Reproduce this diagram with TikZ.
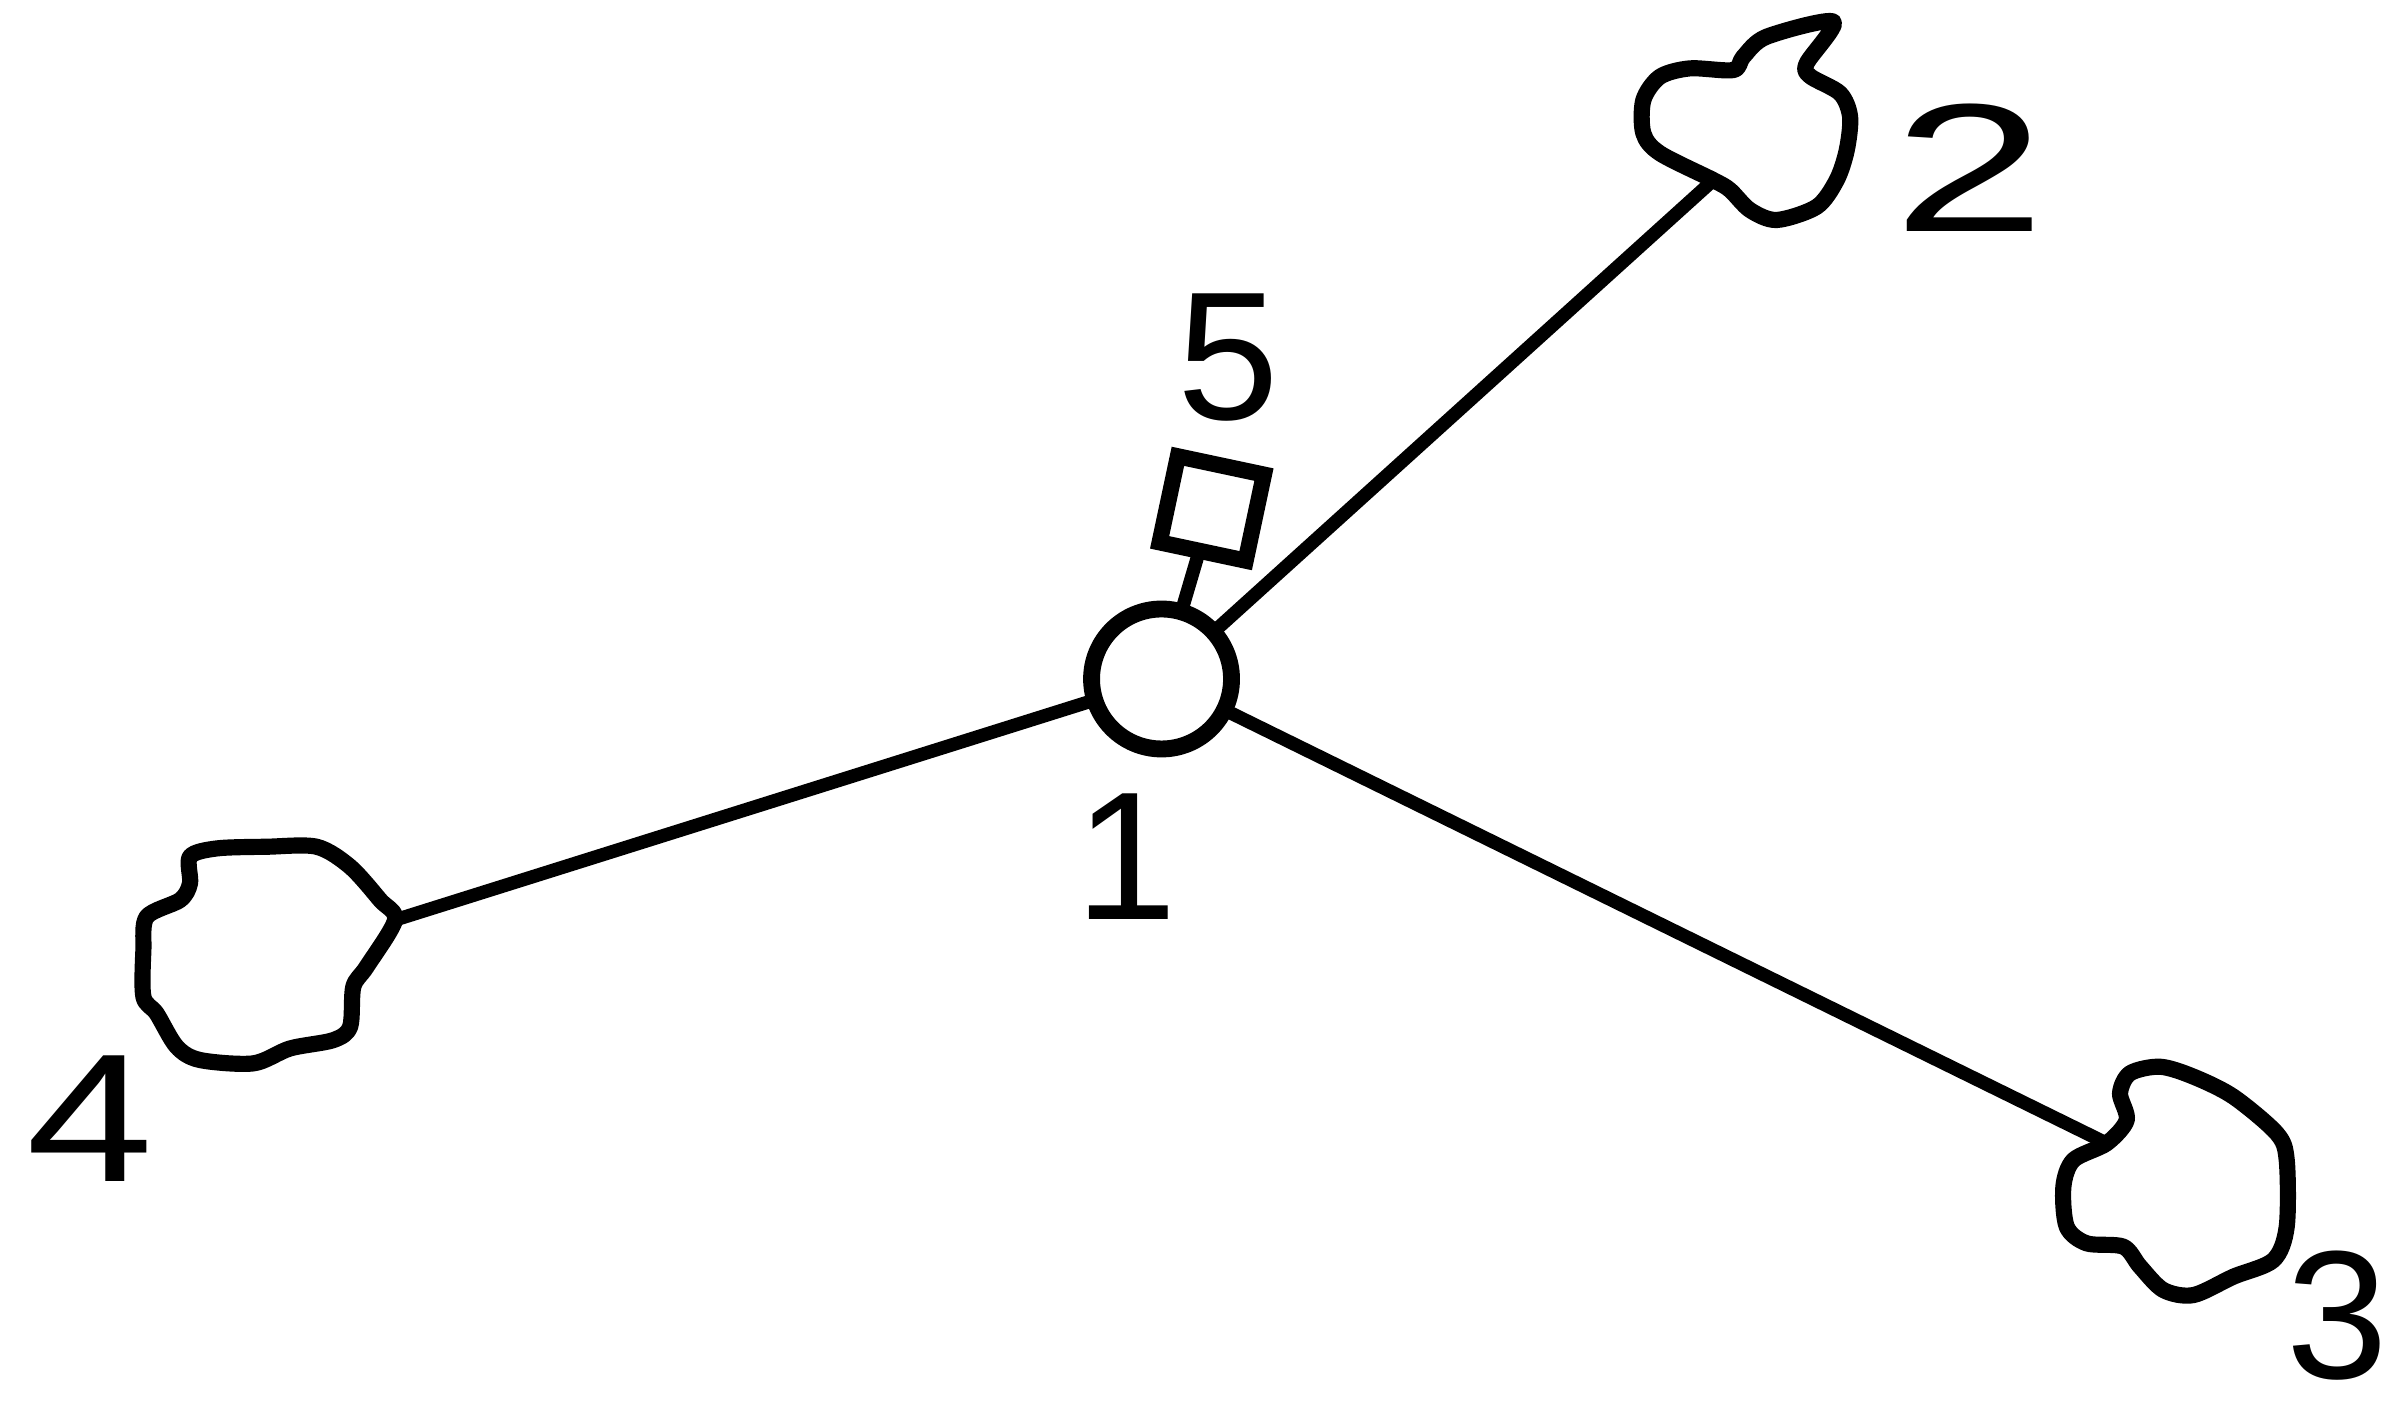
\documentclass[tikz,border=0pt]{standalone}
\usepackage{fontspec}
\setsansfont{Liberation Sans}
\usepackage{tikz}

\tikzset{
  hub/.style={circle, draw, line width=4.8pt, minimum size=1.40cm, inner sep=0pt},
  port/.style={rectangle, draw, line width=4.6pt, minimum size=0.88cm, inner sep=0pt, rotate=-12},
  blob/.style={line width=4.6pt, line join=round},
  edge/.style={line width=3.8pt, line cap=round},
  digit/.style={font=\sffamily\fontsize{52}{52}\selectfont, inner sep=0pt}
}

\begin{document}
\begin{tikzpicture}[x=0.015223cm, y=-0.015223cm]
	\useasboundingbox (0,0) rectangle (1568,928);

	% centre and its little box
	\node[hub] (c1) at (763,446) {};
	\node[port] (sq5) at (796,334) {};

	\node[digit] (l1) at (740,563) {1};
	\node[digit] (l5) at (807,235) {5};
	\node[digit, xscale=1.5] (l2) at (1294,110) {2};
	\node[digit] (l3) at (1535,864) {3};
	\node[digit, xscale=1.25] (l4) at (59,735) {4};

	% blobs
	\draw[blob] plot[smooth cycle] coordinates {(1125.5,118.3) (1090.4,100.7) (1079.5,87.6) (1079.5,65.7) (1090.4,50.4) (1110.1,44.9) (1138.6,46.0) (1145.2,37.2) (1160.5,24.1) (1204.3,14.2) (1186.8,41.6) (1189,50) (1208.7,61.3) (1215.3,76.7) (1213.1,98.6) (1206.5,118.3) (1193.4,135.8) (1167.1,144.5) (1149.6,138.0) (1136.4,124.8)};
	\coordinate (b2) at (1125.5,118.3);

	\draw[blob] plot[smooth cycle] coordinates {(1383.9,751) (1362,762) (1355.4,779.5) (1357.6,805.8) (1370.7,816.7) (1394.8,818.9) (1405.8,832) (1421.1,847.4) (1440.8,850.7) (1467.1,838.6) (1493.4,827.7) (1502.1,805.8) (1502.1,762) (1495.6,744.5) (1467.1,720.4) (1440.8,707.2) (1418.9,700.7) (1399.2,705) (1392.6,718.2) (1397,735.7)};
	\coordinate (b3) at (1383.9,751);

	\draw[blob] plot[smooth cycle] coordinates {(259.5,604.3) (240.9,635) (232.1,648.1) (230,674.4) (219,683.2) (190.5,688.7) (166.4,698.5) (131.4,696.3) (116.1,687.6) (102.9,665.7) (94.2,654.7) (94.2,624) (96.4,602.2) (118.3,591.2) (124.8,580.3) (124.8,562.7) (142.4,557.3) (175.2,556.2) (208,556.2) (230,569.3) (249.7,591.2)};
	\coordinate (b4) at (259.5,604.3);

	% links
	\draw[edge] (sq5) -- (c1);
	\draw[edge] (c1) -- (b2);
	\draw[edge] (c1) -- (b3);
	\draw[edge] (c1) -- (b4);
\end{tikzpicture}
\end{document}
